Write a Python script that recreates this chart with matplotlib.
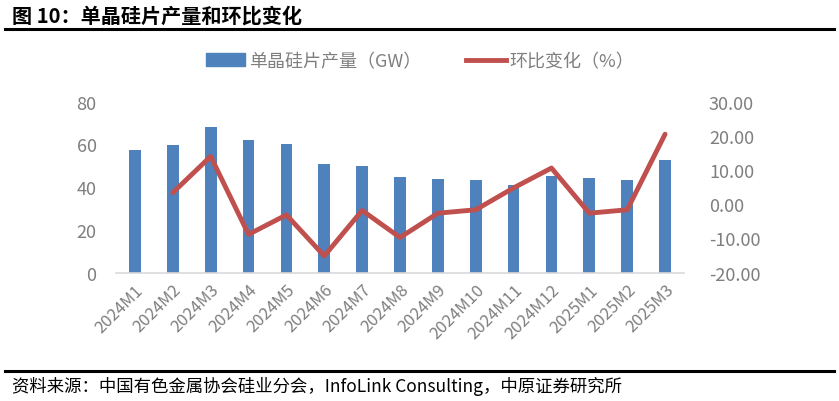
import matplotlib
matplotlib.use('Agg')
import matplotlib.pyplot as plt
from matplotlib.lines import Line2D

plt.rcParams['font.family'] = ['Noto Sans CJK SC', 'DejaVu Sans']
plt.rcParams['font.weight'] = 'light'

months = ['2024M1', '2024M2', '2024M3', '2024M4', '2024M5', '2024M6',
          '2024M7', '2024M8', '2024M9', '2024M10', '2024M11', '2024M12',
          '2025M1', '2025M2', '2025M3']
output_gw = [57.5, 59.6, 68.0, 61.9, 60.0, 50.8, 49.9, 44.9, 43.8, 43.2,
             40.9, 45.4, 44.1, 43.5, 52.5]
mom_pct = [None, 3.4, 14.0, -8.8, -3.1, -15.1, -1.8, -9.7, -2.6, -1.6,
           4.8, 10.6, -2.6, -1.6, 20.5]

gray = '#7f7f7f'
bar_color = '#4f81bd'
line_color = '#c0504d'

fig = plt.figure(figsize=(8.39, 4.02), dpi=100)
ax = fig.add_axes([116 / 839, 1 - 273.7 / 402, (684 - 116) / 839, 171 / 402])
ax2 = ax.twinx()

x = list(range(len(months)))
ax.bar(x, output_gw, width=0.31, color=bar_color, zorder=2)
xs = [i for i, v in zip(x, mom_pct) if v is not None]
ys = [v for v in mom_pct if v is not None]
ax2.plot(xs, ys, color=line_color, lw=3.5, solid_capstyle='round',
         solid_joinstyle='round', zorder=3)

ax.set_xlim(-0.5, len(months) - 0.5)
ax.set_ylim(0, 80)
ax.set_yticks([0, 20, 40, 60, 80])
ax2.set_ylim(-20, 30)
ax2.set_yticks([-20, -10, 0, 10, 20, 30])
ax2.set_yticklabels([f'{v:.2f}' for v in range(-20, 31, 10)])

ax.set_xticks(x)
ax.set_xticklabels(months, rotation=45, ha='right', rotation_mode='anchor')

for a in (ax, ax2):
    for s in a.spines.values():
        s.set_visible(False)
    a.tick_params(length=0, colors=gray, labelsize=13)
ax.tick_params(axis='x', labelsize=12, pad=6)
ax.tick_params(axis='y', pad=14)
ax2.tick_params(axis='y', pad=18)
ax.spines['bottom'].set_visible(True)
ax.spines['bottom'].set_color('#d9d9d9')
ax.spines['bottom'].set_linewidth(1.2)

handles = [plt.Rectangle((0, 0), 1, 1, color=bar_color),
           Line2D([], [], color=line_color, lw=3.5)]
fig.legend(handles, ['单晶硅片产量（GW）', '环比变化（%）'],
           loc='center', bbox_to_anchor=(420 / 839, 1 - 62 / 402), ncol=2,
           frameon=False, fontsize=13, labelcolor=gray, handlelength=2.2,
           columnspacing=2.5, handletextpad=0.2)

fig.text(12 / 839, 1 - 16 / 402, '图 10：单晶硅片产量和环比变化',
         fontsize=14.5, fontweight='heavy', va='center', ha='left')
fig.add_artist(Line2D([5 / 839, 834 / 839], [1 - 30 / 402] * 2,
                      color='black', lw=2.2))
fig.add_artist(Line2D([5 / 839, 834 / 839], [1 - 372 / 402] * 2,
                      color='black', lw=2.2))
fig.text(12 / 839, 1 - 386 / 402,
         '资料来源：中国有色金属协会硅业分会，InfoLink Consulting，中原证券研究所',
         fontsize=12.5, fontweight='normal', va='center', ha='left')

fig.savefig('out.png', dpi=100)
